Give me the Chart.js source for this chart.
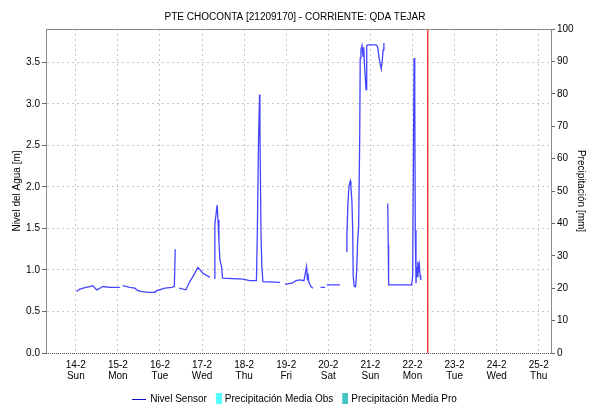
<!DOCTYPE html>
<html>
<head>
<meta charset="utf-8">
<title>PTE CHOCONTA [21209170]</title>
<script src="https://cdn.jsdelivr.net/npm/chart.js@4.4.0/dist/chart.umd.min.js"></script>
<style>
  html, body { margin: 0; padding: 0; background: #fff; }
  #contenedor { width: 590px; height: 405px; }
</style>
</head>
<body>
<div id="contenedor"><canvas id="grafico" width="590" height="405"></canvas></div>
<script>
// Días del eje X (cada marca es la medianoche del día)
const dias = ['14-2', '15-2', '16-2', '17-2', '18-2', '19-2', '20-2', '21-2', '22-2', '23-2', '24-2', '25-2'];
const diasSemana = ['Sun', 'Mon', 'Tue', 'Wed', 'Thu', 'Fri', 'Sat', 'Sun', 'Mon', 'Tue', 'Wed', 'Thu'];

// Nivel del sensor: horas contadas desde 14-2 00:00 y nivel en metros (null = sin dato)
const horas = [
    0.4, 2.3, 5.7, 8.0, 9.7, 12.0, 13.7, 15.4, 19.4, 22.8, 25.1, 26.0,
    26.8, 30.8, 33.7, 35.4, 37.7, 41.1, 45.1, 46.2, 50.8, 54.8, 56.2, 56.7, 57.5,
    58.9, 62.8, 65.0, 66.8, 69.6, 72.5, 76.5, 77.5,
    78.9, 79.3, 80.6, 81.1, 81.6, 82.2, 83.1, 83.7, 95.3, 99.3, 103.0, 103.5, 104.2,
    104.8, 105.0, 105.6, 106.1, 106.7, 116.4, 117.5,
    119.3, 123.3, 125.5, 127.8, 130.1, 131.6, 132.1, 132.4, 132.9, 134.1, 135.2, 137.0,
    139.6, 142.1, 142.5,
    143.0, 150.6, 152.0,
    154.5, 154.6, 155.2, 155.8, 156.5, 156.9, 157.5, 157.9, 158.2, 158.8, 159.6, 160.2,
    160.7, 161.3, 161.9, 162.2, 162.6, 163.2, 163.8, 164.2, 164.7, 165.5, 165.9, 166.6,
    171.2, 172.1, 172.9, 173.5, 174.2, 174.8, 175.3, 175.7, 176.8,
    177.9, 178.2, 178.4, 191.5, 192.1, 192.5, 192.9, 193.3, 193.6, 194.0, 194.4, 194.7,
    195.1, 195.5, 195.9, 196.3, 196.7
];
const nivel = [
    0.74, 0.77, 0.79, 0.80, 0.81, 0.76, 0.78, 0.80, 0.79, 0.79, 0.79, null,
    0.81, 0.79, 0.78, 0.75, 0.74, 0.73, 0.73, 0.75, 0.78, 0.79, 0.80, 1.25, null,
    0.78, 0.76, 0.86, 0.92, 1.03, 0.96, 0.91, null,
    0.90, 1.55, 1.78, 1.60, 1.35, 1.12, 1.04, 0.90, 0.89, 0.87, 0.87, 1.42, 2.55,
    3.11, 2.71, 1.45, 1.04, 0.86, 0.85, null,
    0.83, 0.84, 0.87, 0.88, 0.87, 1.04, 0.88, 0.96, 0.85, 0.80, 0.78, null,
    0.79, 0.79, null,
    0.82, 0.82, null,
    1.22, 1.40, 1.81, 2.01, 2.07, 2.00, 1.81, 1.48, 0.92, 0.80, 0.80, 1.00,
    1.33, 1.52, 2.57, 3.55, 3.65, 3.70, 3.57, 3.68, 3.45, 3.17, 3.70, 3.71,
    3.71, 3.69, 3.56, 3.49, 3.42, 3.53, 3.65, 3.73, null,
    1.80, 1.30, 0.82, 0.82, 0.92, 2.21, 3.55, 3.09, 1.48, 0.84, 1.04, 0.92,
    1.10, 1.00, 1.06, 0.94, 0.88
];

// Precipitación (sin registros en el periodo)
const precipObs = [];
const precipPro = [];

// Hora actual (línea roja), en horas desde 14-2 00:00
const horaActual = 200.7;

const FUENTE = "'Liberation Sans', Arial, sans-serif";
Chart.defaults.font.family = FUENTE;
Chart.defaults.font.size = 10;
Chart.defaults.color = '#000';

// Símbolos de la leyenda
function simboloLinea(color) {
    const c = document.createElement('canvas');
    c.width = 14; c.height = 2;
    const g = c.getContext('2d');
    g.fillStyle = color;
    g.fillRect(0, 1, 14, 1);
    return c;
}
function simboloCaja(color) {
    const c = document.createElement('canvas');
    c.width = 16; c.height = 12;
    const g = c.getContext('2d');
    g.fillStyle = color;
    g.fillRect(10, 0, 6, 11);
    return c;
}

// Marco del área de la gráfica (arriba sólido, abajo punteado)
const marco = {
    id: 'marco',
    afterDraw(chart) {
        const { ctx, chartArea: a } = chart;
        ctx.save();
        ctx.strokeStyle = '#8a8a8a';
        ctx.lineWidth = 1;
        ctx.beginPath();
        ctx.moveTo(a.left, a.top + 0.5);
        ctx.lineTo(a.right, a.top + 0.5);
        ctx.stroke();
        ctx.strokeStyle = '#555';
        ctx.setLineDash([1, 1]);
        ctx.beginPath();
        ctx.moveTo(a.left, a.bottom + 0.5);
        ctx.lineTo(a.right, a.bottom + 0.5);
        ctx.stroke();
        ctx.restore();
    }
};

const puntosNivel = horas.map((h, i) => ({ x: h, y: nivel[i] }));

const grid = { color: '#c8c8c8', tickColor: '#666', tickLength: 4, tickBorderDash: [] };

new Chart(document.getElementById('grafico'), {
    type: 'line',
    data: {
        datasets: [
            {
                label: 'Nivel Sensor',
                data: puntosNivel,
                borderColor: '#4444ff',
                borderWidth: 1.3,
                pointRadius: 0,
                spanGaps: false,
                tension: 0,
                yAxisID: 'y'
            },
            {
                type: 'bar',
                label: 'Precipitación Media Obs',
                data: precipObs,
                backgroundColor: '#55ffff',
                yAxisID: 'y1'
            },
            {
                type: 'bar',
                label: 'Precipitación Media Pro',
                data: precipPro,
                backgroundColor: '#44c4c4',
                yAxisID: 'y1'
            },
            {
                label: 'ahora',
                data: [{ x: horaActual, y: 0 }, { x: horaActual, y: 3.9 }],
                borderColor: '#ff3b3b',
                borderWidth: 1.5,
                pointRadius: 0,
                order: -1,
                yAxisID: 'y'
            }
        ]
    },
    options: {
        responsive: false,
        animation: false,
        layout: { padding: 0 },
        plugins: {
            title: {
                display: true,
                text: 'PTE CHOCONTA [21209170] - CORRIENTE: QDA TEJAR',
                font: { size: 10, weight: 'normal' },
                color: '#000',
                padding: { top: 11, bottom: 6 }
            },
            legend: {
                position: 'bottom',
                maxHeight: 12,
                labels: {
                    usePointStyle: true,
                    pointStyleWidth: 12,
                    padding: 1,
                    font: { size: 10 },
                    color: '#000',
                    generateLabels(chart) {
                        const simbolos = [simboloLinea('#1010d0'), simboloCaja('#55ffff'), simboloCaja('#44c4c4')];
                        return Chart.defaults.plugins.legend.labels.generateLabels(chart)
                            .filter(it => it.datasetIndex < 3)
                            .map(it => Object.assign(it, { pointStyle: simbolos[it.datasetIndex] }));
                    }
                }
            },
            tooltip: { enabled: false }
        },
        scales: {
            x: {
                type: 'linear',
                min: -17,
                max: 271,
                offset: false,
                grid: { color: '#c8c8c8', drawTicks: false, offset: false },
                border: { display: false, dash: [2, 3] },
                afterBuildTicks(scale) {
                    scale.ticks = dias.map((d, i) => ({ value: i * 24 }));
                },
                afterFit(scale) { scale.height = 40; },
                ticks: {
                    padding: 7,
                    maxRotation: 0,
                    autoSkip: false,
                    font: { size: 10, lineHeight: 1.1 },
                    callback: (v, i) => [dias[i], diasSemana[i]]
                }
            },
            y: {
                position: 'left',
                min: 0,
                max: 3.9,
                grid: grid,
                border: { display: true, color: '#8a8a8a', dash: [2, 3] },
                afterFit(scale) { scale.width = 46; },
                ticks: {
                    stepSize: 0.5,
                    includeBounds: false,
                    padding: 2,
                    callback: v => v.toFixed(1)
                },
                title: {
                    display: true,
                    text: 'Nivel del Agua [m]',
                    font: { size: 10 },
                    padding: { top: 11, bottom: 0 }
                }
            },
            y1: {
                position: 'right',
                min: 0,
                max: 100,
                grid: { drawOnChartArea: false, tickColor: '#666', tickLength: 4 },
                border: { display: true, color: '#8a8a8a' },
                afterFit(scale) { scale.width = 39; },
                ticks: { stepSize: 10, padding: 2 },
                title: {
                    display: true,
                    text: 'Precipitación [mm]',
                    font: { size: 10 },
                    padding: { top: 3, bottom: 0 }
                }
            }
        }
    },
    plugins: [marco]
});
</script>
</body>
</html>
